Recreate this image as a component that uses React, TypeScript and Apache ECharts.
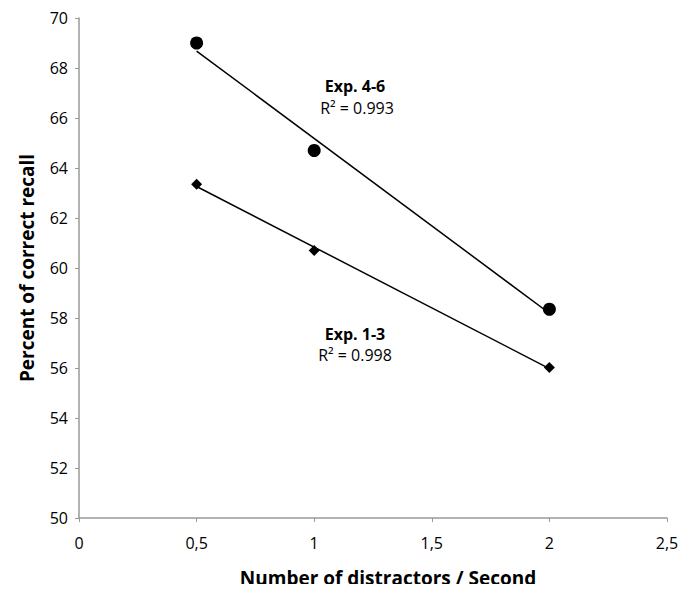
import React, { useEffect, useRef } from "react";
import * as echarts from "echarts";

const distractorRates = [0.5, 1, 2];
const exp46Recall = [69.0, 64.7, 58.35];
const exp13Recall = [63.35, 60.7, 56.02];
const exp46Label = ["Exp. 4-6", "R² = 0.993"];
const exp13Label = ["Exp. 1-3", "R² = 0.998"];

function fitLine(xs: number[], ys: number[]) {
  const n = xs.length;
  const mx = xs.reduce((a, b) => a + b, 0) / n;
  const my = ys.reduce((a, b) => a + b, 0) / n;
  let sxy = 0, sxx = 0;
  for (let i = 0; i < n; i++) {
    sxy += (xs[i] - mx) * (ys[i] - my);
    sxx += (xs[i] - mx) * (xs[i] - mx);
  }
  const slope = sxy / sxx;
  const b = my - slope * mx;
  const x0 = Math.min(...xs), x1 = Math.max(...xs);
  return [[x0, b + slope * x0], [x1, b + slope * x1]];
}

const FONT = "'Open Sans', 'Liberation Sans', sans-serif";

export default function App() {
  const ref = useRef<HTMLDivElement>(null);
  useEffect(() => {
    const chart = echarts.init(ref.current!, null, { renderer: "svg" });
    const pts = (ys: number[]) => distractorRates.map((x, i) => [x, ys[i]]);
    const txt = (x: number, y: number, text: string, bold: boolean) => ({
      type: "text", x, y,
      style: { text, fontFamily: FONT, fontSize: 16, fontWeight: bold ? "bold" : "normal", fill: "#000", align: "center", verticalAlign: "middle" },
    });
    chart.setOption({
      animation: false,
      backgroundColor: "#fff",
      grid: { left: 79, right: 25, top: 18, bottom: 73 },
      xAxis: {
        type: "value",
        min: 0,
        max: 2.5,
        interval: 0.5,
        name: "Number of distractors / Second",
        nameLocation: "middle",
        nameGap: 50,
        nameTextStyle: { fontFamily: FONT, fontSize: 19, fontWeight: "bold", color: "#000", padding: [0, 0, 0, 30] },
        axisLine: { lineStyle: { color: "#999", width: 1.5 } },
        axisTick: { show: true, length: 4, inside: false, lineStyle: { color: "#999" } },
        axisLabel: {
          fontFamily: FONT, fontSize: 16, color: "#000", margin: 17,
          formatter: (v: number) => String(v).replace(".", ","),
        },
        splitLine: { show: false },
      },
      yAxis: {
        type: "value",
        min: 50,
        max: 70,
        interval: 2,
        name: "Percent of correct recall",
        nameLocation: "middle",
        nameGap: 43,
        nameTextStyle: { fontFamily: FONT, fontSize: 19, fontWeight: "bold", color: "#000" },
        axisLine: { show: true, lineStyle: { color: "#999", width: 1.5 } },
        axisTick: { show: true, length: 4, lineStyle: { color: "#999" } },
        axisLabel: { fontFamily: FONT, fontSize: 16, color: "#000", margin: 11 },
        splitLine: { show: false },
      },
      series: [
        {
          type: "line",
          data: fitLine(distractorRates, exp46Recall),
          showSymbol: false,
          symbol: "none",
          lineStyle: { color: "#000", width: 1.5 },
          z: 1,
        },
        {
          type: "line",
          data: fitLine(distractorRates, exp13Recall),
          showSymbol: false,
          symbol: "none",
          lineStyle: { color: "#000", width: 1.5 },
          z: 1,
        },
        {
          type: "scatter",
          data: pts(exp46Recall),
          symbol: "circle",
          symbolSize: 13,
          itemStyle: { color: "#000", opacity: 1 },
          z: 3,
        },
        {
          type: "scatter",
          data: pts(exp13Recall),
          symbol: "diamond",
          symbolSize: 11,
          itemStyle: { color: "#000", opacity: 1 },
          z: 3,
        },
      ],
      graphic: [
        txt(355, 86, exp46Label[0], true),
        txt(357, 108, exp46Label[1], false),
        txt(355, 334, exp13Label[0], true),
        txt(355, 355, exp13Label[1], false),
      ],
    });
    return () => chart.dispose();
  }, []);
  return <div ref={ref} style={{ width: 692, height: 592, margin: -8 }} />;
}
